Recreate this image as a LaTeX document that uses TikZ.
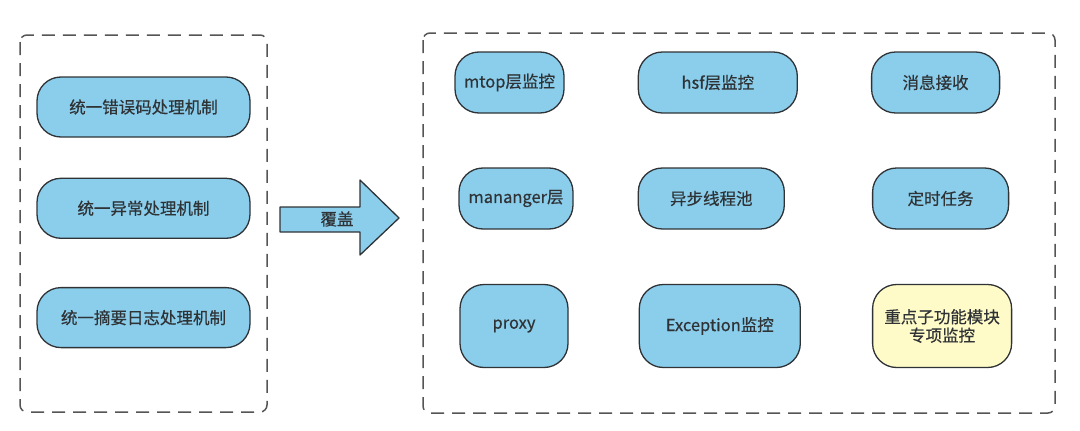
\documentclass[tikz,border=0pt]{standalone}
\usepackage{fontspec}
\newfontfamily\cjk[FakeBold=0.5]{Noto Sans CJK SC}
\usetikzlibrary{positioning}
\definecolor{boxblue}{HTML}{8ACEEC}
\definecolor{boxyellow}{HTML}{FFFBC9}
\definecolor{edge}{HTML}{2F3336}
\definecolor{framegray}{HTML}{555555}

\begin{document}
\begin{tikzpicture}[
  x=1pt, y=-1pt,
  every node/.style={font=\cjk\fontsize{16.5}{18.5}\selectfont, text=edge},
  unit/.style={
    draw=edge, fill=boxblue, line width=1.3pt, rounded corners=24pt,
    minimum height=61pt, align=center, inner sep=2pt
  },
  wide/.style={unit, minimum width=213pt, minimum height=60pt},
  tall/.style={unit, minimum height=83pt},
  focus/.style={tall, fill=boxyellow},
  group/.style={draw=framegray, line width=1.5pt, dash pattern=on 13pt off 8pt,
    rounded corners=7pt},
  cover/.style={draw=edge, fill=boxblue, line width=1.3pt, line join=round}
]
  \useasboundingbox (0,0) rectangle (1080,431);

  % left group
  \draw[group] (20,35) rectangle (267,412);
  \node[wide] (errcode) at (143.5,107) {统一错误码处理机制};
  \node[wide, below=40pt of errcode] (except) {统一异常处理机制};
  \node[wide, below=48pt of except] (digest) {统一摘要日志处理机制};

  % block arrow
  \draw[cover] (280,207) -- (360,207) -- (360,180) -- (399,218)
    -- (360,255) -- (360,232) -- (280,232) -- cycle;
  \node (covertext) at (337,219) {覆盖};

  % right group
  \draw[group] (423,33) rectangle (1055,413);
  \node[unit, minimum width=109pt] (mtop) at (509.5,82.5) {mtop层监控};
  \node[unit, minimum width=159pt, right=73pt of mtop] (hsf) {hsf层监控};
  \node[unit, minimum width=128pt, right=73pt of hsf] (msg) {消息接收};

  \node[unit, minimum width=114pt] (manager) at (516,198.5) {mananger层};
  \node[unit, minimum width=146pt, right=64pt of manager] (pool) {异步线程池};
  \node[unit, minimum width=136pt, right=87pt of pool] (timer) {定时任务};

  \node[tall, minimum width=108pt] (proxy) at (514,326) {proxy};
  \node[tall, minimum width=161pt, right=70pt of proxy] (exc) {Exception监控};
  \node[focus, minimum width=139pt, right=71pt of exc] (keymod) {重点子功能模块\\专项监控};
\end{tikzpicture}
\end{document}
